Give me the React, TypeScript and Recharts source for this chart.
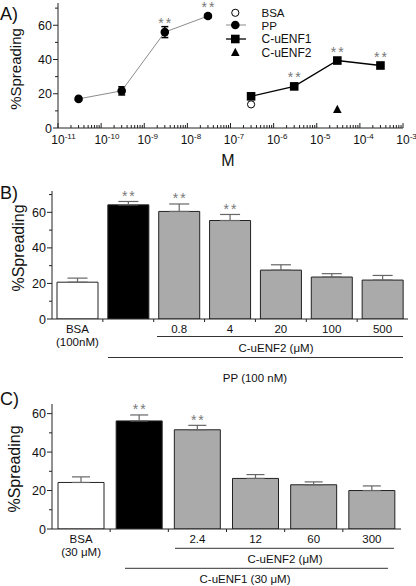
import React from "react";
import {
  Bar,
  BarChart,
  Cell,
  ComposedChart,
  ErrorBar,
  LabelList,
  Line,
  XAxis,
  YAxis,
} from "recharts";

const FONT = "'Liberation Sans', Arial, Helvetica, sans-serif";
const AXIS = "#222";
const FRAME = "#8a8a8a";
const SIG = "#777";

// panel A: dose response, x in molar
const ppConc = [3e-11, 3e-10, 3e-9, 3e-8];
const ppSpread = [17, 21.7, 56, 65.4];
const ppErr = [0.8, 2.4, 3.2, 1];
const ppSig = ["", "", "**", "**"];

const enf1Conc = [3e-7, 3e-6, 3e-5, 3e-4];
const enf1Spread = [18.5, 24.3, 39.4, 36.5];
const enf1Sig = ["", "**", "**", "**"];

const bsaConc = [3e-7];
const bsaSpread = [13.8];

const enf2Conc = [3e-5];
const enf2Spread = [11];

const decades = [-11, -10, -9, -8, -7, -6, -5, -4, -3];
const spreadTicks = [0, 10, 20, 30, 40, 50, 60, 70];

// panel B: PP 100 nM + C-uENF2
const catsB = ["BSA", "PP", "0.8", "4", "20", "100", "500"];
const valsB = [20.7, 64.2, 60.5, 55.4, 27.5, 23.6, 21.9];
const errB = [2.3, 1.9, 4.2, 3.4, 3, 1.9, 2.6];
const sigB = ["", "**", "**", "**", "", "", ""];
const tickB = [["BSA", "(100nM)"], [], ["0.8"], ["4"], ["20"], ["100"], ["500"]];

// panel C: C-uENF1 30 uM + C-uENF2
const catsC = ["BSA", "ENF1", "2.4", "12", "60", "300"];
const valsC = [24.2, 56.2, 51.6, 26.3, 23, 20];
const errC = [2.9, 3.1, 2.3, 2, 1.5, 2.4];
const sigC = ["", "**", "**", "", "", ""];
const tickC = [["BSA", "(30 \u03bcM)"], [], ["2.4"], ["12"], ["60"], ["300"]];

const pts = (xs: number[], ys: number[], errs?: number[], sig?: string[]) =>
  xs.map((x, i) => ({ x, y: ys[i], err: errs ? errs[i] : 0, sig: sig ? sig[i] : "" }));

const ppData = pts(ppConc, ppSpread, ppErr, ppSig);
const enf1Data = pts(enf1Conc, enf1Spread, undefined, enf1Sig);
const bsaData = pts(bsaConc, bsaSpread);
const enf2Data = pts(enf2Conc, enf2Spread);

const logTicks = decades.flatMap((d, i) =>
  i === decades.length - 1 ? [10 ** d] : [1, 2, 3, 4, 5, 6, 7, 8, 9].map((k) => k * 10 ** d)
);

const barTable = (cats: string[], vals: number[], errs: number[], sig: string[]) =>
  cats.map((cat, i) => ({ cat, v: vals[i], err: [0, errs[i]], sig: sig[i] }));

const dataB = barTable(catsB, valsB, errB, sigB);
const dataC = barTable(catsC, valsC, errC, sigC);

function LogTick(props: any) {
  const { x, y, payload } = props;
  const e = Math.log10(payload.value);
  const major = Math.abs(e - Math.round(e)) < 1e-6;
  return (
    <g>
      <line x1={x} x2={x} y1={y} y2={y - (major ? 5 : 3)} stroke={AXIS} />
      {major && (
        <text x={x - 6.7} y={y + 16} fontSize={12} fontFamily={FONT} fill="#111">
          10
          <tspan dy={-5} fontSize={8}>
            {Math.round(e)}
          </tspan>
        </text>
      )}
    </g>
  );
}

function SpreadTick(props: any) {
  const { x, y, payload } = props;
  const major = payload.value % 20 === 0;
  return (
    <g>
      <line x1={x} x2={x - (major ? 5 : 3)} y1={y} y2={y} stroke={AXIS} />
      {major && (
        <text x={x - 6} y={y + 4.5} textAnchor="end" fontSize={12.5} fontFamily={FONT} fill="#111">
          {payload.value}
        </text>
      )}
    </g>
  );
}

function CatTick(props: any) {
  const { x, y, index, labels, band } = props;
  const lines: string[] = labels[index] || [];
  return (
    <g>
      {index > 0 && <line x1={x - band / 2} x2={x - band / 2} y1={y} y2={y + 3} stroke={AXIS} />}
      {lines.map((t, k) => (
        <text key={k} x={x} y={y + 13.5 + k * 13} textAnchor="middle" fontSize={11.5} fontFamily={FONT} fill="#111">
          {t}
        </text>
      ))}
    </g>
  );
}

const pointStar = (p: any) =>
  p.value ? (
    <text x={p.x + 1} y={p.y - 4} textAnchor="middle" fontSize={14} letterSpacing={2} fill={SIG} fontFamily={FONT}>
      {p.value}
    </text>
  ) : null;

const barStar = (vals: number[], errs: number[]) => (p: any) => {
  if (!p.value) return null;
  const perUnit = p.height / vals[p.index];
  const top = p.y - errs[p.index] * perUnit;
  return (
    <text x={p.x + p.width / 2 + 1} y={top - 0.5} textAnchor="middle" fontSize={14} letterSpacing={2} fill={SIG} fontFamily={FONT}>
      {p.value}
    </text>
  );
};

const filledCircle = (p: any) => <circle key={`pp${p.index}`} cx={p.cx} cy={p.cy} r={4.3} fill="#000" />;
const openCircle = (p: any) => (
  <circle key={`bsa${p.index}`} cx={p.cx} cy={p.cy} r={3.6} fill="#fff" stroke="#000" strokeWidth={1} />
);
const square = (p: any) => <rect key={`sq${p.index}`} x={p.cx - 4.3} y={p.cy - 4.3} width={8.6} height={8.6} fill="#000" />;
const triangle = (p: any) => (
  <path key={`tr${p.index}`} d={`M${p.cx},${p.cy - 4.5}L${p.cx + 4.3},${p.cy + 3.8}L${p.cx - 4.3},${p.cy + 3.8}Z`} fill="#000" />
);

const barFill = (i: number) => (i === 0 ? "#fff" : i === 1 ? "#000" : "#aaaaaa");

function BarPanel(props: {
  data: any[];
  vals: number[];
  errs: number[];
  ticks: string[][];
  height: number;
  top: number;
  right: number;
  xHeight: number;
  yMax: number;
  barSize: number;
  capWidth: number;
}) {
  const { data, vals, errs, ticks, height, top, right, xHeight, yMax, barSize, capWidth } = props;
  const band = (416 - 52 - right) / data.length;
  return (
    <BarChart width={416} height={height} data={data} margin={{ top, right, bottom: 0, left: 0 }} barSize={barSize}>
      <XAxis
        dataKey="cat"
        interval={0}
        tick={<CatTick labels={ticks} band={band} />}
        tickLine={false}
        tickSize={0}
        tickMargin={0}
        height={xHeight}
        axisLine={{ stroke: AXIS }}
      />
      <XAxis xAxisId="frame" dataKey="cat" orientation="top" height={0} tick={false} tickLine={false} axisLine={{ stroke: FRAME }} />
      <YAxis
        type="number"
        domain={[0, yMax]}
        ticks={spreadTicks.filter((t) => t <= yMax)}
        interval={0}
        allowDataOverflow
        tick={<SpreadTick />}
        tickLine={false}
        tickSize={0}
        tickMargin={0}
        width={52}
        axisLine={{ stroke: AXIS }}
      />
      <YAxis yAxisId="frame" orientation="right" domain={[0, 1]} width={0} tick={false} tickLine={false} axisLine={{ stroke: FRAME }} />
      <Bar dataKey="v" stroke="#222" strokeWidth={1} isAnimationActive={false}>
        {data.map((d, i) => (
          <Cell key={d.cat} fill={barFill(i)} />
        ))}
        <ErrorBar dataKey="err" direction="y" width={capWidth} stroke="#666" strokeWidth={1.2} />
        <LabelList dataKey="sig" content={barStar(vals, errs)} />
      </Bar>
    </BarChart>
  );
}

export default function App() {
  return (
    <div style={{ position: "absolute", left: 0, top: 0, width: 416, height: 586, background: "#fff", fontFamily: FONT }}>
      <div style={{ position: "absolute", left: 0, top: 0 }}>
        <ComposedChart width={416} height={170} margin={{ top: 3, right: 13, bottom: 0, left: 0 }}>
          <XAxis
            dataKey="x"
            type="number"
            scale="log"
            domain={[1e-11, 1e-3]}
            allowDataOverflow
            ticks={logTicks}
            interval={0}
            tick={<LogTick />}
            tickLine={false}
            tickSize={0}
            tickMargin={0}
            height={42}
            axisLine={{ stroke: AXIS }}
          />
          <XAxis xAxisId="frame" type="number" domain={[0, 1]} orientation="top" height={0} tick={false} tickLine={false} axisLine={{ stroke: FRAME }} />
          <YAxis
            type="number"
            domain={[0, 73]}
            allowDataOverflow
            ticks={spreadTicks}
            interval={0}
            tick={<SpreadTick />}
            tickLine={false}
            tickSize={0}
            tickMargin={0}
            width={58}
            axisLine={{ stroke: AXIS }}
          />
          <YAxis yAxisId="frame" orientation="right" domain={[0, 1]} width={0} tick={false} tickLine={false} axisLine={{ stroke: FRAME }} />
          <Line data={ppData} dataKey="y" stroke="#8c8c8c" strokeWidth={1} dot={filledCircle} isAnimationActive={false}>
            <ErrorBar dataKey="err" direction="y" width={3.5} stroke="#000" />
            <LabelList dataKey="sig" content={pointStar} />
          </Line>
          <Line data={enf1Data} dataKey="y" stroke="#000" strokeWidth={1.3} dot={square} isAnimationActive={false}>
            <LabelList dataKey="sig" content={pointStar} />
          </Line>
          <Line data={bsaData} dataKey="y" stroke="none" dot={openCircle} isAnimationActive={false} />
          <Line data={enf2Data} dataKey="y" stroke="none" dot={triangle} isAnimationActive={false} />
        </ComposedChart>
      </div>

      <div style={{ position: "absolute", left: 0, top: 180 }}>
        <BarPanel data={dataB} vals={valsB} errs={errB} ticks={tickB} height={205} top={11} right={8} xHeight={66} yMax={72} barSize={41} capWidth={10} />
      </div>

      <div style={{ position: "absolute", left: 0, top: 395 }}>
        <BarPanel data={dataC} vals={valsC} errs={errC} ticks={tickC} height={191} top={9} right={15} xHeight={57} yMax={65} barSize={46} capWidth={9} />
      </div>

      <svg width={416} height={586} style={{ position: "absolute", left: 0, top: 0, pointerEvents: "none" }} fontFamily={FONT} fill="#111">
        <text x={0} y={20} fontSize={18}>A)</text>
        <text x={0} y={198.5} fontSize={18}>B)</text>
        <text x={0} y={405} fontSize={18}>C)</text>

        <text x={21} y={69} fontSize={15} textAnchor="middle" transform="rotate(-90 21 69)">%Spreading</text>
        <text x={24} y={248} fontSize={16} textAnchor="middle" transform="rotate(-90 24 248)">%Spreading</text>
        <text x={20} y={469} fontSize={16} textAnchor="middle" transform="rotate(-90 20 469)">%Spreading</text>

        <text x={228} y={165.5} fontSize={16} textAnchor="middle">M</text>

        {/* legend */}
        <circle cx={235.3} cy={12.8} r={3.6} fill="#fff" stroke="#000" />
        <line x1={226} x2={246} y1={25} y2={25} stroke="#8c8c8c" />
        <circle cx={235.3} cy={25} r={4.3} fill="#000" />
        <line x1={226} x2={246} y1={39} y2={39} stroke="#000" strokeWidth={1.3} />
        <rect x={231} y={34.7} width={8.6} height={8.6} fill="#000" />
        <path d="M235.3,47.8L239.6,56.1L231,56.1Z" fill="#000" />
        <text x={261.5} y={16.8} fontSize={11.5}>BSA</text>
        <text x={261.5} y={29.5} fontSize={11.5}>PP</text>
        <text x={261.5} y={43.3} fontSize={12}>C-uENF1</text>
        <text x={261.5} y={56.8} fontSize={12}>C-uENF2</text>

        {/* group brackets, panel B */}
        <line x1={157} x2={403} y1={336.5} y2={336.5} stroke="#333" />
        <text x={276} y={352} fontSize={11.5} textAnchor="middle">C-uENF2 ({"\u03bc"}M)</text>
        <line x1={108} x2={403} y1={357.5} y2={357.5} stroke="#333" />
        <text x={255} y={382} fontSize={11.5} textAnchor="middle">PP (100 nM)</text>

        {/* group brackets, panel C */}
        <line x1={175} x2={394} y1={548.3} y2={548.3} stroke="#333" />
        <text x={285} y={563} fontSize={11.5} textAnchor="middle">C-uENF2 ({"\u03bc"}M)</text>
        <line x1={125} x2={388} y1={568.3} y2={568.3} stroke="#333" />
        <text x={245} y={582.5} fontSize={11.5} textAnchor="middle">C-uENF1 (30 {"\u03bc"}M)</text>
      </svg>
    </div>
  );
}
